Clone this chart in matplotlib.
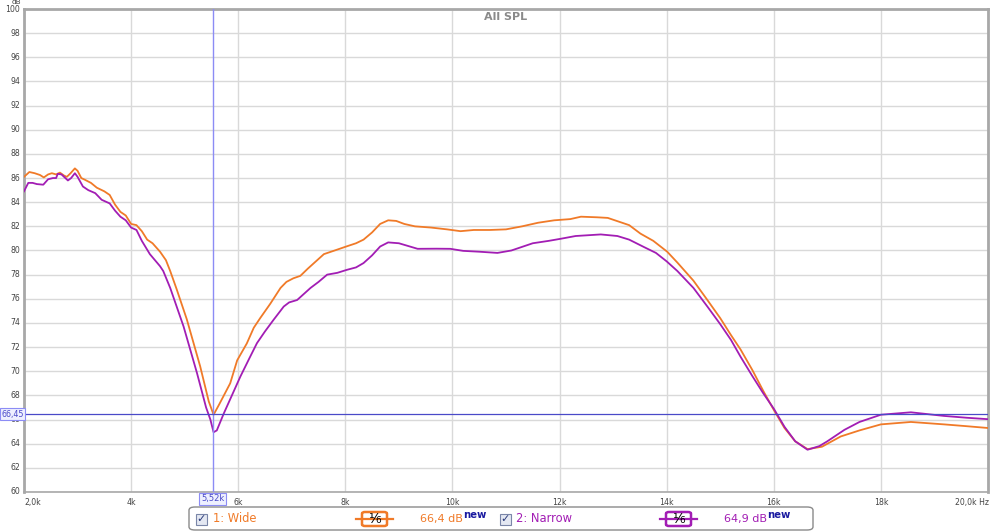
import matplotlib
matplotlib.use("Agg")
import matplotlib.pyplot as plt
from matplotlib.patches import FancyBboxPatch, Rectangle
from matplotlib.lines import Line2D

# ---------------- data ----------------
wide_freq_khz = [2.0, 2.1, 2.2, 2.3, 2.37, 2.45, 2.52, 2.6, 2.67, 2.75, 2.8, 2.87, 2.95, 3.0,
                 3.07, 3.14, 3.25, 3.36, 3.5, 3.6, 3.7, 3.8, 3.9, 4.0, 4.1, 4.2, 4.3, 4.4,
                 4.54, 4.65, 4.73, 4.85, 5.04, 5.29, 5.45, 5.54, 5.65, 5.85, 5.98, 6.16,
                 6.29, 6.41, 6.6, 6.79, 6.9, 7.03, 7.16, 7.3, 7.45, 7.6, 7.8, 8.03, 8.2,
                 8.34, 8.5, 8.65, 8.8, 8.95, 9.1, 9.3, 9.6, 9.9, 10.15, 10.4, 10.7, 11.0,
                 11.3, 11.6, 11.9, 12.2, 12.4, 12.7, 12.9, 13.1, 13.3, 13.51, 13.75, 14.01,
                 14.2, 14.5, 14.76, 15.0, 15.2, 15.38, 15.6, 15.8, 16.0, 16.2, 16.4, 16.63,
                 16.9, 17.25, 17.6, 18.0, 18.56, 19.18, 19.6, 20.0]
wide_db = [86.1, 86.5, 86.4, 86.25, 86.05, 86.3, 86.4, 86.3, 86.45, 86.2, 86.1, 86.4, 86.8, 86.6,
           86.0, 85.85, 85.6, 85.2, 84.9, 84.6, 83.8, 83.2, 82.9, 82.2, 82.1, 81.6, 80.9, 80.6,
           79.9, 79.2, 78.3, 76.8, 74.3, 70.4, 67.5, 66.4, 67.3, 69.0, 70.9, 72.3,
           73.6, 74.4, 75.6, 76.9, 77.4, 77.7, 77.9, 78.5, 79.1, 79.7, 80.0, 80.35, 80.6,
           80.9, 81.5, 82.2, 82.5, 82.45, 82.2, 82.0, 81.9, 81.75, 81.6, 81.7, 81.7, 81.75,
           82.0, 82.3, 82.5, 82.6, 82.8, 82.75, 82.7, 82.4, 82.1, 81.4, 80.8, 79.9,
           79.0, 77.5, 75.9, 74.4, 73.0, 71.8, 70.1, 68.4, 66.8, 65.3, 64.2, 63.55,
           63.75, 64.6, 65.1, 65.6, 65.8, 65.6, 65.45, 65.3]

narrow_freq_khz = [2.0, 2.08, 2.16, 2.24, 2.36, 2.45, 2.54, 2.6, 2.63, 2.7, 2.82, 2.88, 2.95, 3.0,
                   3.1, 3.2, 3.33, 3.45, 3.6, 3.7, 3.8, 3.9, 4.0, 4.1, 4.2, 4.35, 4.54, 4.6,
                   4.73, 4.98, 5.23, 5.4, 5.48, 5.54, 5.6, 5.73, 6.04, 6.2, 6.35, 6.5, 6.66,
                   6.85, 6.95, 7.1, 7.35, 7.5, 7.66, 7.85, 8.03, 8.2, 8.34, 8.5, 8.65, 8.8,
                   9.0, 9.35, 9.7, 9.96, 10.2, 10.5, 10.84, 11.1, 11.5, 11.8, 12.02, 12.3,
                   12.77, 13.08, 13.3, 13.57, 13.8, 14.0, 14.2, 14.5, 14.76, 15.0, 15.2,
                   15.38, 15.6, 15.8, 16.0, 16.2, 16.4, 16.63, 16.85, 17.0, 17.32, 17.6,
                   18.0, 18.56, 19.18, 19.6, 20.0]
narrow_db = [84.9, 85.6, 85.6, 85.5, 85.45, 85.9, 86.0, 86.0, 86.35, 86.3, 85.8, 86.0, 86.4, 86.1,
             85.3, 85.0, 84.75, 84.2, 83.9, 83.3, 82.8, 82.5, 81.9, 81.7, 80.8, 79.7, 78.7, 78.3,
             76.9, 73.7, 69.85, 67.0, 66.0, 64.95, 65.1, 66.5, 69.56, 71.0, 72.33, 73.3, 74.26,
             75.36, 75.7, 75.9, 76.9, 77.4, 78.0, 78.15, 78.4, 78.6, 78.96, 79.6, 80.33, 80.67,
             80.6, 80.14, 80.15, 80.14, 79.97, 79.9, 79.8, 80.0, 80.6, 80.8, 80.97, 81.2,
             81.33, 81.2, 80.9, 80.3, 79.8, 79.1, 78.3, 76.9, 75.36, 73.9, 72.6,
             71.2, 69.6, 68.2, 66.9, 65.4, 64.2, 63.5, 63.8, 64.2, 65.15, 65.8,
             66.4, 66.6, 66.3, 66.15, 66.03]

y_ticks = list(range(60, 101, 2))
x_ticks_khz = [2, 4, 6, 8, 10, 12, 14, 16, 18, 20]
x_tick_labels = ["2,0k", "4k", "6k", "8k", "10k", "12k", "14k", "16k", "18k", "20,0k Hz"]

cursor_freq_khz = 5.52
cursor_db = 66.45
cursor_freq_label = "5,52k"
cursor_db_label = "66,45"

series_names = ["1: Wide", "2: Narrow"]
series_smoothing = ["1/6", "1/6"]
series_values = ["66,4 dB", "64,9 dB"]
title = "All SPL"

# ---------------- style ----------------
ORANGE = "#f07a28"
PURPLE = "#a21db4"
GRID = "#d9d9d9"
TXT = "#444444"
CUR_V = "#8c8cf5"
CUR_H = "#4a4ac8"

W, H = 1000, 532
fig = plt.figure(figsize=(W / 100, H / 100), dpi=100)
fig.patch.set_facecolor("white")

ax_l, ax_r, ax_t, ax_b = 24, 988, 9, 492
ax = fig.add_axes([ax_l / W, 1 - ax_b / H, (ax_r - ax_l) / W, (ax_b - ax_t) / H])
ax.set_xlim(2, 20)
ax.set_ylim(60, 100)
ax.set_xticks(x_ticks_khz)
ax.set_yticks(y_ticks)
ax.set_xticklabels([])
ax.set_yticklabels([])
ax.tick_params(length=0)
ax.grid(True, color=GRID, lw=1.0)
ax.set_axisbelow(True)
for s in ax.spines.values():
    s.set_color("#a8a8a8")
    s.set_linewidth(1.2)
ax.spines["top"].set_linewidth(2.0)
ax.spines["left"].set_linewidth(2.0)
ax.spines["right"].set_linewidth(2.0)

# tick labels as text
for v in y_ticks:
    ax.text(-0.004, v, str(v), transform=ax.get_yaxis_transform(), ha="right", va="center",
            fontsize=5.6, color=TXT)
for v, lab in zip(x_ticks_khz, x_tick_labels):
    ha = "left" if lab.endswith("Hz") else "center"
    xx = v - 0.62 if ha == "left" else v
    if lab == "2,0k":
        ha = "left"
        xx = 2.0
    ax.text(xx, -0.012, lab, transform=ax.get_xaxis_transform(), ha=ha, va="top",
            fontsize=5.6, color=TXT, clip_on=False)
fig.text(12 / W, 1 - 2.5 / H, "dB", ha="left", va="center", fontsize=5.3, color=TXT)

# curves
ax.plot(wide_freq_khz, wide_db, color=ORANGE, lw=1.3, zorder=3)
ax.plot(narrow_freq_khz, narrow_db, color=PURPLE, lw=1.3, zorder=4)

# cursors
ax.axvline(cursor_freq_khz, color=CUR_V, lw=1.0, zorder=5)
ax.axhline(cursor_db, color=CUR_H, lw=0.9, zorder=5)
ax.text(cursor_freq_khz, -0.005, cursor_freq_label, transform=ax.get_xaxis_transform(),
        ha="center", va="top", fontsize=6, color=CUR_H, clip_on=False,
        bbox=dict(boxstyle="square,pad=0.2", fc="#eef0ff", ec=CUR_V, lw=0.8))
fig.text(1.5 / W, 1 - 414 / H, cursor_db_label, ha="left", va="center", fontsize=5.8,
         color=CUR_H, bbox=dict(boxstyle="square,pad=0.15", fc="#eef0ff", ec=CUR_V, lw=0.8))

# title
ax.text(0.5, 1 - 8 / (ax_b - ax_t), title, transform=ax.transAxes, ha="center", va="center",
        fontsize=8, fontweight="bold", color="#8a8a8a")

# ---------------- legend strip ----------------
def fx(px):
    return px / W


def fy(py):
    return 1 - py / H


box = FancyBboxPatch((fx(189), fy(530)), fx(813) - fx(189), fy(507) - fy(530),
                     boxstyle="round,pad=0,rounding_size=0.006", transform=fig.transFigure,
                     fc="white", ec="#8a8a8a", lw=1.0)
fig.add_artist(box)

ymid = 519
colors = [ORANGE, PURPLE]
chk_x = [196, 500]
name_x = [213, 516]
sm_x = [362, 666]
val_x = [420, 724]
for i in range(2):
    c = colors[i]
    # checkbox
    fig.add_artist(Rectangle((fx(chk_x[i]), fy(ymid + 6)), 11 / W, 11 / H,
                             transform=fig.transFigure, fc="#e4e8f2", ec="#7a86a8", lw=0.8))
    fig.text(fx(chk_x[i] + 5.5), fy(ymid), "\u2713", ha="center", va="center",
             fontsize=8, color="#2a3a7a", fontweight="bold")
    fig.text(fx(name_x[i]), fy(ymid), series_names[i], ha="left", va="center",
             fontsize=8.3, color=c)
    # smoothing symbol
    fig.add_artist(Line2D([fx(sm_x[i] - 6), fx(sm_x[i] + 31)], [fy(ymid), fy(ymid)],
                          transform=fig.transFigure, color=c, lw=1.6))
    fig.add_artist(FancyBboxPatch((fx(sm_x[i]), fy(ymid + 7)), 25 / W, 14 / H,
                                  boxstyle="round,pad=0,rounding_size=0.003",
                                  transform=fig.transFigure, fc="white", ec=c, lw=1.8))
    fig.text(fx(sm_x[i] + 12.5), fy(ymid), "\u00b9\u2044\u2086", ha="center", va="center",
             fontsize=10, color="black")
    fig.text(fx(val_x[i]), fy(ymid), series_values[i], ha="left", va="center",
             fontsize=8.0, color=c)
    fig.text(fx(val_x[i] + 43), fy(ymid - 4), "new", ha="left", va="center",
             fontsize=7.3, color="#1a1aa0", fontweight="bold")

fig.savefig("out.png", dpi=100)
